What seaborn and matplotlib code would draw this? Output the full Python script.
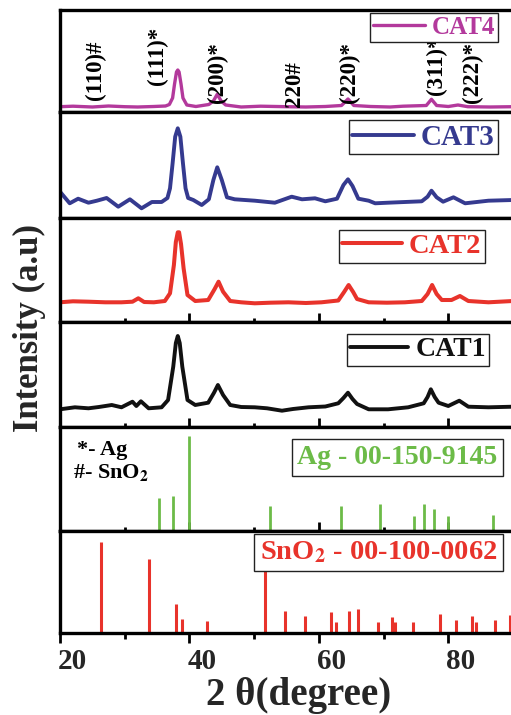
import matplotlib
matplotlib.use("Agg")
import matplotlib.pyplot as plt
import seaborn as sns
from matplotlib.lines import Line2D
from matplotlib.ticker import MultipleLocator
from matplotlib.transforms import ScaledTranslation

# ---------------- data ----------------
cat4_2theta = [20.0, 22.0, 25.0, 27.5, 30.0, 32.0, 34.5, 36.3, 36.9, 37.4,
               37.7, 38.0, 38.2, 38.4, 38.7, 39.0, 39.6, 41.0, 43.0, 43.7,
               44.3, 44.9, 45.6, 48.0, 51.0, 55.0, 58.0, 61.0, 63.5, 64.5,
               65.4, 68.0, 71.0, 73.0, 76.6, 77.4, 78.2, 80.0, 81.5, 83.0,
               86.5, 90.0]
cat4_int = [5.3, 5.8, 5.0, 6.0, 5.3, 5.0, 5.5, 6.0, 7.5, 14,
            28, 40, 42, 40, 28, 14, 7, 5.5, 7.5, 11,
            17.7, 11, 7, 5.0, 5.8, 5.3, 5.0, 5.5, 6.5, 13,
            6.5, 5.5, 5.0, 5.8, 6.5, 12.7, 6.5, 5.5, 7.0, 5.3,
            5.0, 5.3]

cat3_2theta = [20.0, 21.5, 22.8, 24.4, 25.7, 27.2, 29.0, 30.8, 32.6, 34.2,
               35.7, 36.6, 37.0, 37.4, 37.8, 38.2, 38.6, 39.0, 39.4, 39.8,
               40.6, 41.9, 43.0, 43.7, 44.3, 45.0, 45.8, 47.0, 50.1, 53.2,
               55.8, 57.4, 59.4, 61.0, 62.8, 63.8, 64.5, 65.2, 66.1, 67.7,
               68.7, 70.7, 75.9, 76.8, 77.4, 78.2, 79.2, 80.8, 82.6, 86.2,
               90.0]
cat3_int = [26.3, 14.7, 19.3, 15.3, 17.3, 20.0, 11.3, 18.7, 9.7, 16.0,
            16.0, 20.0, 29.7, 54.7, 81.3, 89.7, 81.3, 54.7, 29.7, 20.0,
            18.0, 13.0, 18.7, 38.0, 50.7, 38.0, 20.7, 18.7, 17.3, 15.3,
            21.3, 18.7, 19.7, 16.7, 19.3, 33.0, 38.7, 32.0, 19.3, 17.3,
            14.7, 15.3, 16.7, 21.3, 27.3, 20.7, 16.3, 20.7, 14.7, 17.3,
            18.0]

cat2_2theta = [20.0, 22.0, 24.4, 27.0, 29.5, 31.2, 32.1, 33.0, 34.5, 36.2,
               37.0, 37.6, 37.9, 38.2, 38.4, 38.7, 39.1, 39.7, 40.9, 42.9,
               43.9, 44.5, 45.2, 46.3, 48.0, 50.1, 52.5, 55.3, 58.0, 60.4,
               63.0, 63.9, 64.6, 65.3, 65.9, 67.7, 70.5, 73.3, 75.9, 76.8,
               77.5, 78.2, 79.0, 80.5, 81.8, 83.1, 86.2, 90.0]
cat2_int = [19.7, 20.7, 20.3, 19.7, 19.7, 20.3, 23.7, 20.0, 19.7, 21.0,
            28.7, 57.0, 80.0, 89.7, 89.7, 78.0, 53.7, 27.0, 21.0, 22.0,
            33.0, 40.3, 30.3, 21.0, 19.7, 18.7, 19.3, 19.7, 19.0, 19.7,
            21.5, 30.0, 37.0, 30.0, 23.0, 19.7, 19.3, 19.7, 21.0, 28.0,
            37.0, 28.0, 22.0, 22.0, 26.0, 21.0, 19.7, 21.0]

cat1_2theta = [20.0, 22.3, 24.4, 26.0, 28.0, 29.5, 31.2, 31.8, 32.5, 33.7,
               35.7, 36.7, 37.5, 37.9, 38.2, 38.5, 38.9, 39.7, 40.9, 42.9,
               43.8, 44.4, 45.2, 46.3, 48.0, 50.1, 52.0, 54.3, 56.0, 58.4,
               61.0, 63.0, 63.8, 64.5, 65.2, 65.9, 67.7, 70.7, 73.8, 76.2,
               76.8, 77.3, 77.9, 78.5, 80.0, 81.7, 83.1, 86.2, 90.0]
cat1_int = [17.7, 19.7, 18.7, 20.0, 22.0, 19.7, 25.3, 21.0, 25.7, 18.7,
            19.7, 27.0, 60.3, 84.0, 91.0, 84.0, 60.3, 27.0, 22.0, 24.3,
            34.3, 42.0, 32.0, 22.0, 20.0, 19.7, 18.7, 16.3, 18.0, 19.7,
            20.5, 23.7, 29.0, 34.3, 28.0, 23.0, 17.7, 17.7, 19.7, 23.7,
            30.0, 37.7, 30.0, 24.3, 21.0, 26.3, 20.3, 19.7, 20.3]

ag_2theta = [35.3, 37.5, 40.0, 52.5, 63.4, 69.5, 74.7, 76.2, 77.8, 80.0, 86.9]
ag_int = [33.3, 35.3, 95.3, 25.0, 25.3, 26.7, 15.0, 26.7, 22.0, 15.0, 16.0]

sno2_2theta = [26.4, 33.8, 37.9, 38.9, 42.7, 51.7, 54.7, 57.8, 61.8, 62.7, 64.6,
               66.0, 69.1, 71.3, 71.8, 74.5, 78.7, 81.2, 83.7, 84.3, 87.2, 89.6]
sno2_int = [91.0, 74.3, 28.7, 13.7, 11.7, 80.0, 22.0, 16.7, 21.0, 11.0, 21.7,
            24.3, 11.0, 16.0, 11.0, 11.0, 19.3, 13.3, 16.7, 11.0, 13.3, 17.7]

hkl_labels = ["(110)#", "(111)*", "(200)*", "220#", "(220)*", "(311)*", "(222)*"]
hkl_2theta = [25.5, 35.0, 44.4, 56.3, 64.8, 78.1, 83.7]

xtick_labels = ["20", "40", "60", "80"]

# ---------------- style ----------------
sns.set_style("ticks")
plt.rcParams['font.family'] = ['Liberation Serif', 'DejaVu Serif']
plt.rcParams['font.weight'] = 'bold'
plt.rcParams['mathtext.fontset'] = 'stix'

c_cat4 = '#b3399c'
c_cat3 = '#353a8f'
c_red = '#e8332b'
c_black = '#111111'
c_green = '#6cbb48'

fig = plt.figure(figsize=(5.11, 7.15), dpi=100)
heights = [102, 106, 104, 105, 104, 102]
gs = fig.add_gridspec(6, 1, height_ratios=heights, hspace=0,
                      left=60 / 511, right=513 / 511,
                      top=1 - 10 / 715, bottom=1 - 633 / 715)
axes = [fig.add_subplot(gs[i]) for i in range(6)]

for ax, h in zip(axes, heights):
    ax.set_xlim(20, 90)
    ax.set_ylim(0, h)
    ax.set_yticks([])
    ax.set_ylabel("")
    ax.set_xlabel("")
    for s in ['left', 'top', 'bottom']:
        ax.spines[s].set_linewidth(2.4)
        ax.spines[s].set_color('black')
    ax.spines['right'].set_visible(False)
    ax.xaxis.set_major_locator(MultipleLocator(20))
    ax.xaxis.set_minor_locator(MultipleLocator(10))
    ax.tick_params(axis='x', which='both', labelbottom=False, top=False,
                   direction='in', width=2.0, color='black')
    ax.tick_params(axis='x', which='major', length=6.5)
    ax.tick_params(axis='x', which='minor', length=3.2)

for ax in axes[:2]:
    ax.tick_params(axis='x', which='both', length=0)

# ---------------- curves ----------------
curves = [
    (axes[0], cat4_2theta, cat4_int, c_cat4, 'CAT4', 2.4, 18, (0.967, 0.97)),
    (axes[1], cat3_2theta, cat3_int, c_cat3, 'CAT3', 2.8, 21, (0.967, 0.92)),
    (axes[2], cat2_2theta, cat2_int, c_red, 'CAT2', 2.9, 20.5, (0.938, 0.885)),
    (axes[3], cat1_2theta, cat1_int, c_black, 'CAT1', 2.8, 20, (0.947, 0.89)),
]
for ax, xs, ys, col, lab, lw, fs, anchor in curves:
    sns.lineplot(x=xs, y=ys, ax=ax, color=col, linewidth=lw, label=lab,
                 estimator=None, sort=False)
    leg = ax.legend(loc='upper right', bbox_to_anchor=anchor, borderaxespad=0,
                    frameon=True, fancybox=False, edgecolor='#222222',
                    framealpha=1, prop=dict(family='Liberation Serif', weight='bold', size=fs),
                    handlelength=2.1, handletextpad=0.25, borderpad=0.12,
                    labelcolor='linecolor')
    leg.get_frame().set_linewidth(1.0)
    ax.set_xlabel("")
    ax.set_ylabel("")

# hkl annotations (top panel)
hkl_bottoms = [12, 27, 9, 5, 9, 17, 9]
for lab, x, yb in zip(hkl_labels, hkl_2theta, hkl_bottoms):
    axes[0].text(x, yb, lab, rotation=90, ha='center', va='bottom',
                 fontsize=16.5, fontweight='bold', color='black')

# ---------------- reference sticks ----------------
axes[4].vlines(ag_2theta, 0, ag_int, color=c_green, linewidth=2.0)
axes[5].vlines(sno2_2theta, 0, sno2_int, color=c_red, linewidth=2.2)

for ax, txt, col, fs, anchor in [
        (axes[4], 'Ag - 00-150-9145', c_green, 20, (0.978, 0.88)),
        (axes[5], r'SnO$_\mathbf{2}$ - 00-100-0062', c_red, 20.5, (0.978, 0.975))]:
    leg = ax.legend([Line2D([], [], lw=0)], [txt], loc='upper right',
                    bbox_to_anchor=anchor, borderaxespad=0, frameon=True,
                    fancybox=False, edgecolor='#222222', framealpha=1,
                    prop=dict(family='Liberation Serif', weight='bold', size=fs),
                    handlelength=0, handletextpad=0, borderpad=0.2,
                    labelcolor=col)
    leg.get_frame().set_linewidth(1.0)
    leg.set_zorder(10)

axes[4].text(22.6, 76, '*- Ag', fontsize=16, fontweight='bold', ha='left',
             va='baseline', color='black')
axes[4].text(22.0, 53, r'#- SnO$_\mathbf{2}$', fontsize=16, fontweight='bold',
             ha='left', va='baseline', color='black')

# ---------------- bottom axis ----------------
bax = axes[5]
bax.tick_params(axis='x', which='both', direction='out', labelbottom=True)
bax.tick_params(axis='x', which='major', length=7, pad=4, labelsize=21)
bax.tick_params(axis='x', which='minor', length=4.5)
bax.set_xticks([20, 40, 60, 80])
bax.set_xticklabels(xtick_labels, fontweight='bold', fontsize=21)
for lab in bax.get_xticklabels():
    lab.set_transform(lab.get_transform() + ScaledTranslation(9 / 72, 0, fig.dpi_scale_trans))

fig.text(0.584, 1 - 705 / 715, '2 θ(degree)', ha='center', va='baseline',
         fontsize=28, fontweight='bold')
fig.text(0.057, 1 - 328 / 715, 'Intensity (a.u)', rotation=90, ha='center',
         va='center', fontsize=25, fontweight='bold')

fig.savefig('out.png', dpi=100)
